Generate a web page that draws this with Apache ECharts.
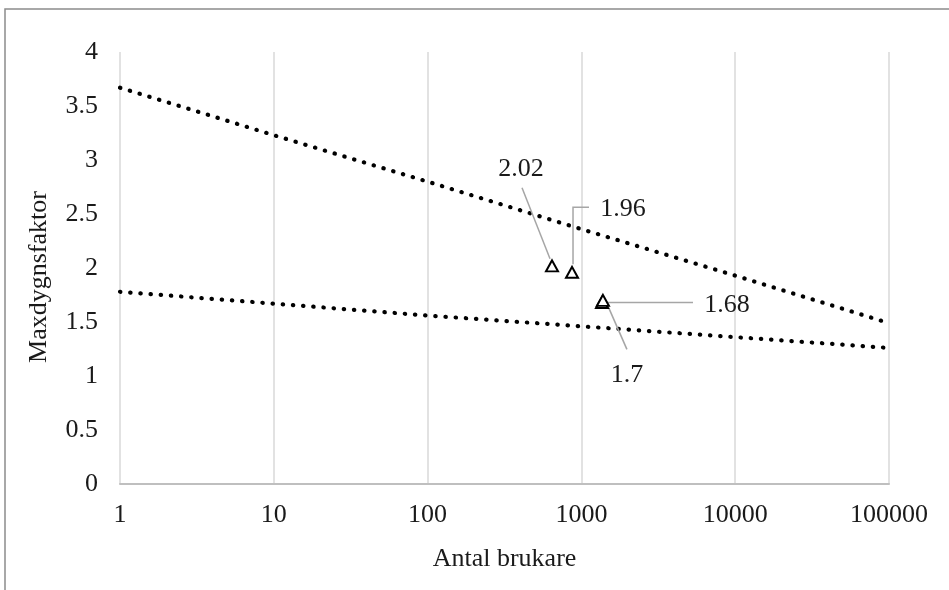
<!DOCTYPE html>
<html>
<head>
<meta charset="utf-8">
<script src="https://cdn.jsdelivr.net/npm/echarts@6/dist/echarts.min.js"></script>
<style>
html,body{margin:0;padding:0;background:#fff;}
#c{width:949px;height:590px;}
</style>
</head>
<body>
<div id="c"></div>
<script>
// ---- data ----
const xTicks = [1, 10, 100, 1000, 10000, 100000];
const upperLine = [3.67, 3.23, 2.80, 2.36, 1.93, 1.49];
const lowerLine = [1.78, 1.67, 1.56, 1.46, 1.36, 1.26];
const pointX = [644, 869, 1361, 1380];
const pointY = [2.02, 1.96, 1.68, 1.70];
const pointLabels = ['2.02', '1.96', '1.68', '1.7'];
const yTicks = [0, 0.5, 1, 1.5, 2, 2.5, 3, 3.5, 4];

// ---- layout (pixel offsets of labels / leader lines relative to points) ----
const labelOffsets = [[-31, -97], [51, -63], [125, 3], [24, 75]];
const leaderPaths = [
  [[-2, -7], [-30, -78]],
  [[1, -8], [1, -65], [17, -65]],
  [[5, 0], [91, 0]],
  [[3, 1], [24, 49]]
];

const FONT = '"Liberation Serif", "Times New Roman", serif';
const chart = echarts.init(document.getElementById('c'), null, {renderer: 'canvas'});

const dotted = {color: '#000', width: 4.2, type: [0.4, 9.8], cap: 'round'};

chart.setOption({
  animation: false,
  backgroundColor: '#fff',
  grid: {left: 120, right: 60, top: 52, bottom: 106},
  xAxis: {
    type: 'log', logBase: 10, min: xTicks[0], max: xTicks[xTicks.length - 1],
    name: 'Antal brukare', nameLocation: 'middle', nameGap: 62,
    nameTextStyle: {fontFamily: FONT, fontSize: 26, color: '#1a1a1a'},
    axisLine: {show: true, lineStyle: {color: '#bfbfbf', width: 2}},
    axisTick: {show: false},
    splitLine: {show: true, lineStyle: {color: '#d9d9d9', width: 1.5}},
    axisLabel: {fontFamily: FONT, fontSize: 26, color: '#1a1a1a', margin: 18,
      formatter: v => String(Math.round(v))}
  },
  yAxis: {
    type: 'value', min: yTicks[0], max: yTicks[yTicks.length - 1], interval: 0.5,
    name: 'Maxdygnsfaktor', nameLocation: 'middle', nameGap: 68, nameRotate: 90,
    nameTextStyle: {fontFamily: FONT, fontSize: 26, color: '#1a1a1a', padding: [0, 18, 0, 0]},
    axisLine: {show: false}, axisTick: {show: false}, splitLine: {show: false},
    axisLabel: {fontFamily: FONT, fontSize: 26, color: '#1a1a1a', margin: 22}
  },
  series: [
    {type: 'line', data: xTicks.map((x, i) => [x, upperLine[i]]), showSymbol: false,
      lineStyle: dotted, z: 3},
    {type: 'line', data: xTicks.map((x, i) => [x, lowerLine[i]]), showSymbol: false,
      lineStyle: dotted, z: 3},
    {type: 'scatter', symbol: 'triangle', symbolSize: [12, 11], z: 5,
      itemStyle: {color: '#fff', borderColor: '#000', borderWidth: 2, opacity: 1},
      label: {show: true, position: 'inside', fontFamily: FONT, fontSize: 26, color: '#1a1a1a',
        formatter: p => pointLabels[p.dataIndex]},
      data: pointX.map((x, i) => ({value: [x, pointY[i]], label: {offset: labelOffsets[i]}}))
    }
  ]
});

// leader lines and outer border
const g = [];
pointX.forEach((x, i) => {
  const p = chart.convertToPixel({gridIndex: 0}, [x, pointY[i]]);
  g.push({type: 'polyline', z: 4, silent: true,
    shape: {points: leaderPaths[i].map(o => [p[0] + o[0], p[1] + o[1]])},
    style: {stroke: '#a6a6a6', lineWidth: 1.5, fill: null}});
});
g.push({type: 'polyline', z: 1, silent: true,
  shape: {points: [[5, 590], [5, 9], [949, 9]]},
  style: {stroke: '#8c8c8c', lineWidth: 1.5, fill: null}});
chart.setOption({graphic: g});
</script>
</body>
</html>
